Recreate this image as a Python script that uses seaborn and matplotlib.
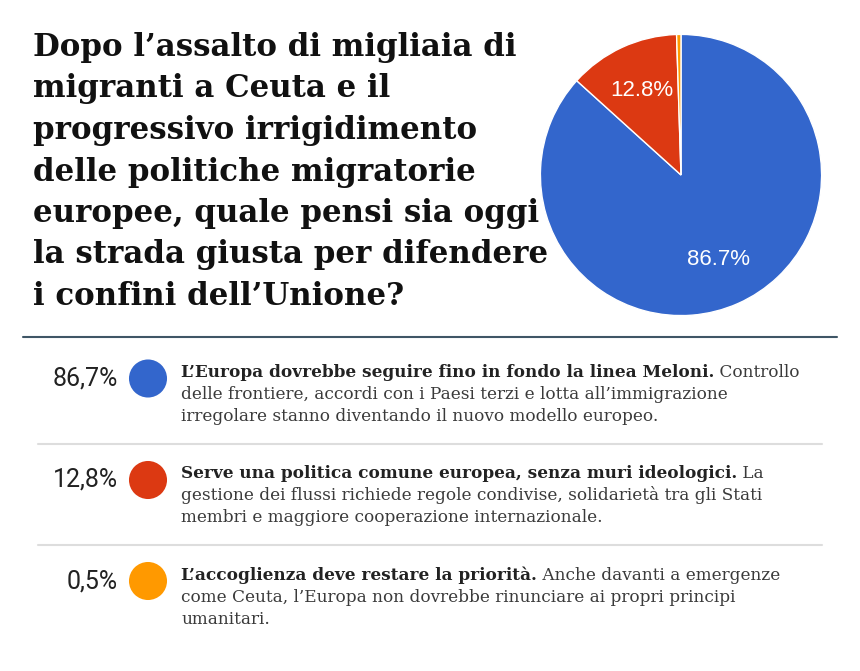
import matplotlib
matplotlib.use("Agg")
import matplotlib.pyplot as plt
import seaborn as sns
import pandas as pd

# data
title_lines = [
    "Dopo l’assalto di migliaia di",
    "migranti a Ceuta e il",
    "progressivo irrigidimento",
    "delle politiche migratorie",
    "europee, quale pensi sia oggi",
    "la strada giusta per difendere",
    "i confini dell’Unione?",
]
shares = [86.7, 12.8, 0.5]
share_labels = ["86,7%", "12,8%", "0,5%"]
slice_colors = ["#3366cc", "#dc3912", "#ff9900"]
answer_bold = [
    "L’Europa dovrebbe seguire fino in fondo la linea Meloni.",
    "Serve una politica comune europea, senza muri ideologici.",
    "L’accoglienza deve restare la priorità.",
]
answer_lines = [
    [" Controllo",
     "delle frontiere, accordi con i Paesi terzi e lotta all’immigrazione",
     "irregolare stanno diventando il nuovo modello europeo."],
    [" La",
     "gestione dei flussi richiede regole condivise, solidarietà tra gli Stati",
     "membri e maggiore cooperazione internazionale."],
    [" Anche davanti a emergenze",
     "come Ceuta, l’Europa non dovrebbe rinunciare ai propri principi",
     "umanitari."],
]

sns.set_theme(style="white")
plt.rcParams["font.family"] = ["DejaVu Serif"]

W, H = 860, 671
fig = plt.figure(figsize=(W / 100, H / 100), dpi=100)
fig.patch.set_facecolor("white")

# full-figure canvas in pixel units for text / rules
bg = fig.add_axes([0, 0, 1, 1])
bg.set_xlim(0, W)
bg.set_ylim(H, 0)
bg.axis("off")

# title
for i, line in enumerate(title_lines):
    bg.text(33, 56 + i * 41.5, line, fontsize=22.2, fontweight="bold",
            color="#111111", va="baseline", ha="left", family="DejaVu Serif")

# pie
cx, cy, r = 681, 175, 142
pie_ax = fig.add_axes([(cx - r) / W, (H - cy - r) / H, 2 * r / W, 2 * r / H])
pie_ax.pie(
    shares,
    colors=slice_colors,
    startangle=90,
    counterclock=False,
    autopct=lambda p: f"{p:.1f}%" if p > 5 else "",
    pctdistance=0.66,
    wedgeprops=dict(edgecolor="white", linewidth=1),
    textprops=dict(color="white", fontsize=16, family="Liberation Sans"),
)
pie_ax.set_xlim(-1.01, 1.01)
pie_ax.set_ylim(-1.01, 1.01)
pie_ax.set_aspect("equal")

# rules
bg.plot([23, 837], [337, 337], color="#3f5666", lw=1.5)

row_y = [378.5, 480, 581]
for y in row_y[1:]:
    bg.plot([38, 822], [y - 36.5, y - 36.5], color="#dddddd", lw=1.5)

# legend dots
dots = pd.DataFrame({"x": [148] * 3, "y": row_y, "answer": share_labels})
sns.scatterplot(data=dots, x="x", y="y", hue="answer", palette=slice_colors,
                s=750, edgecolor="none", legend=False, ax=bg)
bg.set_xlim(0, W)
bg.set_ylim(H, 0)
bg.axis("off")

fig.canvas.draw()
renderer = fig.canvas.get_renderer()
inv = bg.transData.inverted()

for i, y in enumerate(row_y):
    bg.text(118, y + 7, share_labels[i], fontsize=18, color="#222222",
            ha="right", va="baseline", family="Roboto")
    base = y - 1.5
    t = bg.text(181, base, answer_bold[i], fontsize=12.2, fontweight="bold",
                color="#222222", ha="left", va="baseline", family="DejaVu Serif")
    bb = t.get_window_extent(renderer=renderer)
    x_end = inv.transform((bb.x1, bb.y0))[0]
    for j, line in enumerate(answer_lines[i]):
        x0 = x_end if j == 0 else 181
        bg.text(x0, base + j * 22, line, fontsize=12.2, color="#3a3a3a",
                ha="left", va="baseline", family="DejaVu Serif")

fig.savefig("out.png", dpi=100)
